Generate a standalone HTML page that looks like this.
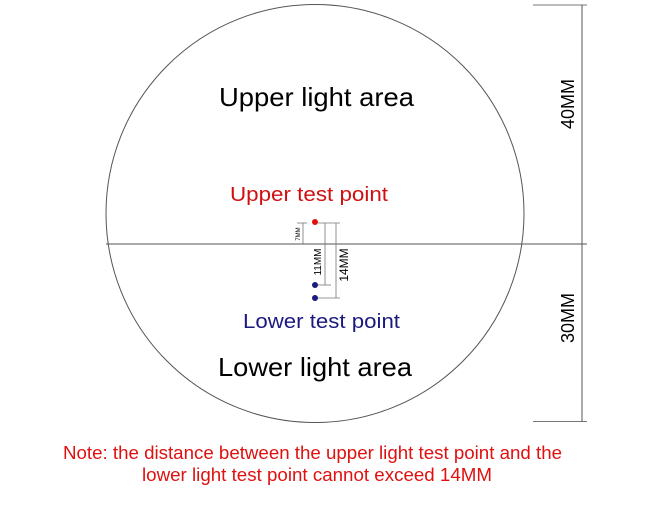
<!DOCTYPE html><html><head><style>body{margin:0;background:#fff}</style></head><body>
<svg width="660" height="501" xmlns="http://www.w3.org/2000/svg" font-family="Liberation Sans, DejaVu Sans, sans-serif">
<circle cx="315" cy="213.5" r="209" fill="none" stroke="#555" stroke-width="1"/>
<line x1="106" y1="244" x2="587" y2="244" stroke="#555"/>
<line x1="533" y1="5" x2="587" y2="5" stroke="#777"/>
<line x1="533" y1="421.5" x2="587" y2="421.5" stroke="#777"/>
<line x1="582" y1="5" x2="582" y2="421.5" stroke="#555"/>
<text x="574" y="104" font-size="18" transform="rotate(-90 574 104)" text-anchor="middle">40MM</text>
<text x="574" y="318" font-size="18" transform="rotate(-90 574 318)" text-anchor="middle">30MM</text>
<text x="219" y="106" font-size="26" textLength="195" lengthAdjust="spacingAndGlyphs">Upper light area</text>
<text x="230" y="201" font-size="20" fill="#d01010" textLength="158" lengthAdjust="spacingAndGlyphs">Upper test point</text>
<text x="243" y="328" font-size="20" fill="#1a1a80" textLength="157" lengthAdjust="spacingAndGlyphs">Lower test point</text>
<text x="218" y="376" font-size="26" textLength="194" lengthAdjust="spacingAndGlyphs">Lower light area</text>
<g stroke="#777" stroke-width="0.8">
<line x1="297" y1="223" x2="307" y2="223"/><line x1="303" y1="223" x2="303" y2="244"/>
<line x1="318" y1="223" x2="340" y2="223"/>
<line x1="325" y1="223" x2="325" y2="285"/><line x1="318" y1="285" x2="331" y2="285"/>
<line x1="336" y1="223" x2="336" y2="298"/><line x1="318" y1="298" x2="340" y2="298"/>
</g>
<text x="300" y="234" font-size="6" transform="rotate(-90 300 234)" text-anchor="middle">7MM</text>
<text x="321" y="262" font-size="10" transform="rotate(-90 321 262)" text-anchor="middle">11MM</text>
<text x="348" y="265" font-size="12" transform="rotate(-90 348 265)" text-anchor="middle">14MM</text>
<circle cx="315" cy="222" r="3" fill="#e01010"/>
<circle cx="315" cy="285" r="3" fill="#1a1a80"/>
<circle cx="315" cy="298" r="3" fill="#1a1a80"/>
<text x="63" y="459" font-size="18" fill="#e01010" textLength="499" lengthAdjust="spacingAndGlyphs">Note: the distance between the upper light test point and the</text>
<text x="142" y="481" font-size="18" fill="#e01010" textLength="350" lengthAdjust="spacingAndGlyphs">lower light test point cannot exceed 14MM</text>
</svg></body></html>
